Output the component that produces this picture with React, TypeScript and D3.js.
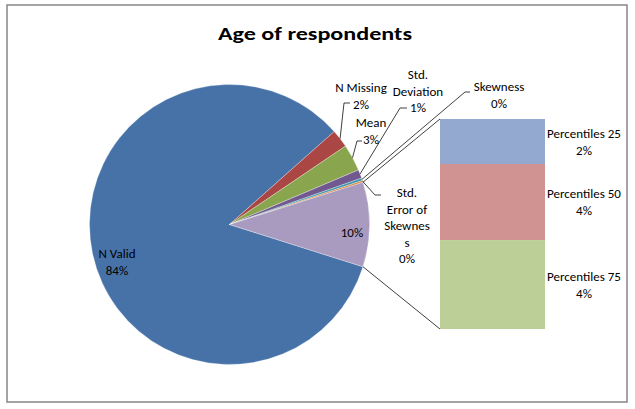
import React from "react";
import * as d3 from "d3";

const categories = ["N Valid", "N Missing", "Mean", "Std. Deviation", "Skewness", "Std. Error of Skewness"];
const values = [83.9, 2.1, 3.1, 1.0, 0.3, 0.2];
const percentileLabels = ["Percentiles 25", "Percentiles 50", "Percentiles 75"];
const percentileValues = [2.1, 3.55, 4.15];

const pieColors = ["#4672A8", "#AA4643", "#89A54E", "#71588F", "#4198AF", "#DB843D", "#A99BC0"];
const barColors = ["#94A9D0", "#D09392", "#BBCF97"];

// label layout (lines, centre x, first baseline, leader path end points)
const labelLayout: Record<string, { lines: string[]; x: number; y: number; leader?: [number, number][] }> = {
  "N Valid": { lines: ["N Valid"], x: 117, y: 258 },
  "N Missing": { lines: ["N Missing"], x: 361, y: 92, leader: [[344, 103], [350, 103]] },
  "Mean": { lines: ["Mean"], x: 371, y: 127, leader: [[357, 141], [362, 141]] },
  "Std. Deviation": { lines: ["Std.", "Deviation"], x: 418, y: 79, leader: [[400, 108], [407, 108]] },
  "Skewness": { lines: ["Skewness"], x: 499, y: 91, leader: [[465, 92], [470, 92]] },
  "Std. Error of Skewness": { lines: ["Std.", "Error of", "Skewnes", "s"], x: 407, y: 197, leader: [[375, 195], [381, 195]] },
};

export default function App() {
  const W = 635, H = 409;
  const cx = 229.5, cy = 224.5, r = 140;
  const otherSum = d3.sum(percentileValues);
  const total = d3.sum(values) + otherSum;
  const all = [...values, otherSum];
  const half = (otherSum / total) * Math.PI;
  const pie = d3.pie<number>().sort(null).startAngle(Math.PI / 2 + half).endAngle(Math.PI / 2 + half + 2 * Math.PI);
  const arcs = pie(all);
  const arcGen = d3.arc<d3.PieArcDatum<number>>().innerRadius(0).outerRadius(r);
  const fmt = d3.format(".0%");
  const pt = (a: number, rr: number): [number, number] => [cx + rr * Math.sin(a), cy - rr * Math.cos(a)];

  const barX0 = 440, barX1 = 545;
  const y = d3.scaleLinear().domain([0, otherSum]).range([119, 329]);
  const cum = percentileValues.map((v, i) => d3.sum(percentileValues.slice(0, i)));

  const otherArc = arcs[arcs.length - 1];
  const topPt = pt(otherArc.startAngle, r);
  const botPt = pt(otherArc.endAngle, r);
  const font = "Calibri, Carlito, Lato, 'Liberation Sans', sans-serif";
  const lh = 16.5;
  const fs = 13;

  return (
    <div style={{ position: "absolute", left: 0, top: 0 }}>
      <svg width={W} height={H} style={{ display: "block", background: "#fff" }}>
        <rect x={7} y={5} width={620} height={397} fill="#fff" stroke="#868686" strokeWidth={1.5} />
        <text x={315} y={40} textAnchor="middle" fontFamily={font} fontWeight="bold" fontSize={19} textLength={194} lengthAdjust="spacingAndGlyphs" fill="#000">
          Age of respondents
        </text>
        <g>
          {arcs.map((a, i) => (
            <path key={i} d={arcGen(a) || ""} transform={`translate(${cx},${cy})`} fill={pieColors[i]} stroke="#fff" strokeWidth={0.3} />
          ))}
        </g>
        {percentileValues.map((v, i) => (
          <rect key={i} x={barX0} width={barX1 - barX0} y={y(cum[i])} height={y(cum[i] + v) - y(cum[i])} fill={barColors[i]} />
        ))}
        <line x1={topPt[0]} y1={topPt[1]} x2={barX0} y2={y(0)} stroke="#000" strokeWidth={0.75} />
        <line x1={botPt[0]} y1={botPt[1]} x2={barX0} y2={y(otherSum)} stroke="#000" strokeWidth={0.75} />
        {categories.map((c, i) => {
          const L = labelLayout[c];
          const a = arcs[i];
          const mid = (a.startAngle + a.endAngle) / 2;
          const p = pt(mid, r);
          const lines = [...L.lines, fmt(values[i] / total)];
          return (
            <g key={c}>
              {L.leader && (
                <polyline points={[p, ...L.leader].map((q) => q.join(",")).join(" ")} fill="none" stroke="#000" strokeWidth={0.75} />
              )}
              {lines.map((t, k) => (
                <text key={k} x={L.x} y={L.y + k * lh} textAnchor="middle" fontFamily={font} fontSize={fs} fill="#000">
                  {t}
                </text>
              ))}
            </g>
          );
        })}
        <text x={352} y={237} textAnchor="middle" fontFamily={font} fontSize={fs} fill="#000">
          {fmt(otherSum / total)}
        </text>
        {percentileValues.map((v, i) => {
          const yc = (y(cum[i]) + y(cum[i] + v)) / 2;
          return (
            <g key={i}>
              <text x={584} y={yc - 4} textAnchor="middle" fontFamily={font} fontSize={fs} fill="#000">
                {percentileLabels[i]}
              </text>
              <text x={584} y={yc + 13} textAnchor="middle" fontFamily={font} fontSize={fs} fill="#000">
                {fmt(v / total)}
              </text>
            </g>
          );
        })}
      </svg>
    </div>
  );
}
